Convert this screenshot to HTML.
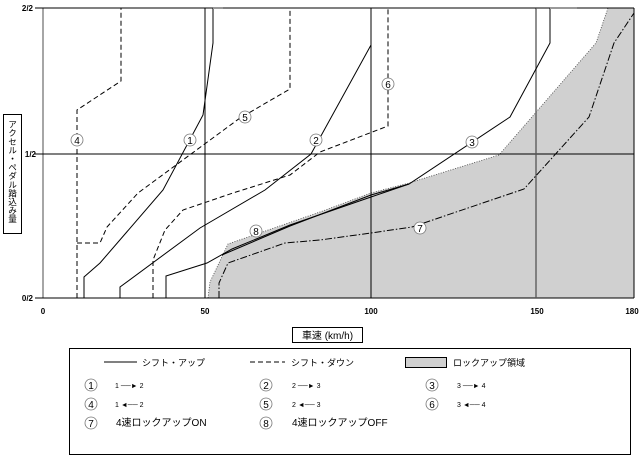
<!DOCTYPE html>
<html><head><meta charset="utf-8"><style>
html,body{margin:0;padding:0;background:#fff;}
svg{display:block;font-family:"Liberation Sans","Noto Sans CJK JP",sans-serif;}
</style></head><body>
<svg width="644" height="458" viewBox="0 0 644 458" xmlns="http://www.w3.org/2000/svg">
<rect width="644" height="458" fill="#fff"/>
<polygon points="208,298 210,282 228,244 320,212 371,193 409,183 499,155 596,43 608,8 634,8 634,298" fill="#d0d0d0" stroke="#444" stroke-width="0.8" stroke-dasharray="1,1.5"/>
<line x1="43" y1="8" x2="43" y2="298" stroke="#888" stroke-width="1.5"/>
<line x1="43" y1="8" x2="634" y2="8" stroke="#000" stroke-width="1"/>
<line x1="43" y1="298" x2="634" y2="298" stroke="#000" stroke-width="1"/>
<line x1="634" y1="8" x2="634" y2="298" stroke="#000" stroke-width="1"/>
<line x1="35" y1="154" x2="634" y2="154" stroke="#000" stroke-width="1"/>
<line x1="205" y1="8" x2="205" y2="298" stroke="#000" stroke-width="1"/>
<line x1="371" y1="8" x2="371" y2="298" stroke="#000" stroke-width="1"/>
<line x1="536" y1="8" x2="536" y2="298" stroke="#555" stroke-width="1.3"/>
<line x1="35" y1="8" x2="43" y2="8" stroke="#000"/>
<line x1="35" y1="298" x2="43" y2="298" stroke="#000"/>
<g fill="none" stroke="#000" stroke-width="1">
<polyline points="84,298 84,277 100,263 163,190 203,115 213,43 213,8"/>
<polyline points="120,298 120,287 200,228 265,190 311,154 371,45 371,8"/>
<polyline points="166,298 166,276 207,263 232,249 290,225 371,197 409,184 510,117 550,43 550,8"/>
<polyline points="222,255 290,226 371,195 409,184"/>
<g stroke-dasharray="5,3">
<polyline points="77,298 77,110 121,81 121,8 205,8"/>
<polyline points="77,243 100,243 107,227 138,193 240,118 290,89 290,8 371,8"/>
<polyline points="153,298 153,260 165,230 183,210 233,193 290,175 320,152 388,126 388,8 536,8"/>
</g>
<polyline points="219,298 219,283 228,263 285,243 320,240 371,233 412,227 524,189 589,117 614,43 634,13" stroke-dasharray="7,2,1.5,2"/>
</g>
<g stroke="#999" stroke-width="2"><line x1="213" y1="8" x2="223" y2="8"/><line x1="550" y1="8" x2="577" y2="8"/></g>
<g font-size="10" text-anchor="middle">
<g fill="#fff" stroke="#777" stroke-width="0.8">
<circle cx="77" cy="140" r="6"/><circle cx="190" cy="140" r="6"/><circle cx="245" cy="117" r="6"/><circle cx="316" cy="140" r="6"/><circle cx="388" cy="84" r="6"/><circle cx="472" cy="142" r="6"/><circle cx="420" cy="228" r="6"/><circle cx="256" cy="231" r="6"/>
</g>
<text x="77" y="144">4</text><text x="190" y="144">1</text><text x="245" y="121">5</text><text x="316" y="144">2</text><text x="388" y="88">6</text><text x="472" y="146">3</text><text x="420" y="232">7</text><text x="256" y="235">8</text>
</g>
<g font-size="8" font-weight="bold" fill="#000">
<text x="33" y="11" text-anchor="end">2/2</text>
<text x="36" y="157" text-anchor="end">1/2</text>
<text x="33" y="301" text-anchor="end">0/2</text>
<text x="43" y="314" text-anchor="middle">0</text>
<text x="205" y="314" text-anchor="middle">50</text>
<text x="371" y="314" text-anchor="middle">100</text>
<text x="537" y="314" text-anchor="middle">150</text>
<text x="632" y="314" text-anchor="middle">180</text>
</g>
<rect x="3.5" y="114.5" width="18" height="119" fill="#fff" stroke="#000"/>
<text x="12.5" y="120" font-size="8.6" style="writing-mode:vertical-rl">アクセル・ペダル踏込み量</text>
<rect x="292.5" y="327.5" width="70" height="15" fill="#fff" stroke="#000"/>
<text x="327.5" y="339" font-size="10" text-anchor="middle">車速 (km/h)</text>
<rect x="69.5" y="348.5" width="561" height="106" fill="#fff" stroke="#000"/>
<g font-size="9">
<line x1="104" y1="362" x2="137" y2="362" stroke="#000"/>
<text x="142" y="366">シフト・アップ</text>
<line x1="250" y1="362" x2="285" y2="362" stroke="#000" stroke-dasharray="5,3"/>
<text x="291" y="366">シフト・ダウン</text>
<rect x="405.5" y="357.5" width="41" height="10" fill="#d0d0d0" stroke="#000"/>
<text x="453" y="366">ロックアップ領域</text>
<g fill="#fff" stroke="#777" stroke-width="0.8">
<circle cx="91" cy="385" r="6"/><circle cx="266" cy="385" r="6"/><circle cx="432" cy="385" r="6"/>
<circle cx="91" cy="404" r="6"/><circle cx="266" cy="404" r="6"/><circle cx="432" cy="404" r="6"/>
<circle cx="91" cy="423" r="6"/><circle cx="266" cy="423" r="6"/>
</g>
<g font-size="10" text-anchor="middle">
<text x="91" y="389">1</text><text x="266" y="389">2</text><text x="432" y="389">3</text>
<text x="91" y="408">4</text><text x="266" y="408">5</text><text x="432" y="408">6</text>
<text x="91" y="427">7</text><text x="266" y="427">8</text>
</g>
<g font-size="7">
<text x="115" y="388">1 ──► 2</text><text x="292" y="388">2 ──► 3</text><text x="457" y="388">3 ──► 4</text>
<text x="115" y="407">1 ◄── 2</text><text x="292" y="407">2 ◄── 3</text><text x="457" y="407">3 ◄── 4</text>
</g>
<text x="116" y="426" font-size="10">4速ロックアップON</text>
<text x="292" y="426" font-size="10">4速ロックアップOFF</text>
</g>
</svg>
</body></html>
